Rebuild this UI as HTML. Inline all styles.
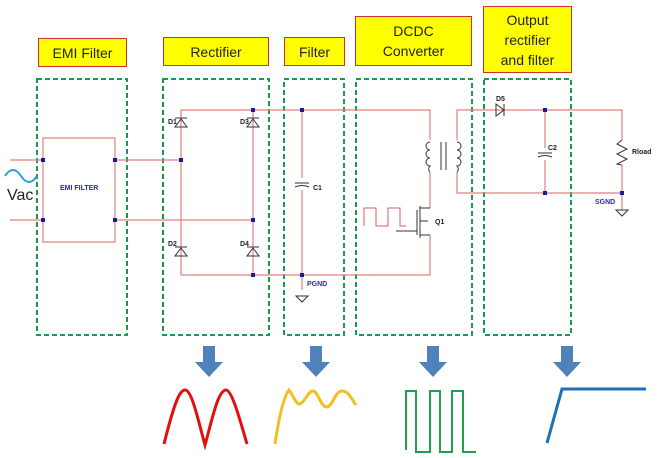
<!DOCTYPE html>
<html><head><style>
body{margin:0;background:#fff;}
.lb{position:absolute;background:#ffff00;border:1.5px solid #d03030;font-family:"Liberation Sans",sans-serif;font-size:14px;color:#222;display:flex;align-items:center;justify-content:center;text-align:center;line-height:20px;box-sizing:border-box}
</style></head><body>
<div style="position:relative;width:657px;height:458px;overflow:hidden">
<div class="lb" style="left:38px;top:38px;width:89px;height:29px">EMI Filter</div>
<div class="lb" style="left:163px;top:37px;width:106px;height:29px">Rectifier</div>
<div class="lb" style="left:284px;top:37px;width:61px;height:29px">Filter</div>
<div class="lb" style="left:355px;top:16px;width:117px;height:50px">DCDC<br>Converter</div>
<div class="lb" style="left:483px;top:6px;width:89px;height:67px">Output<br>rectifier<br>and filter</div>
<svg width="657" height="458" style="position:absolute;left:0;top:0" font-family="Liberation Sans,sans-serif">
<g fill="none" stroke="#1a9a50" stroke-width="2" stroke-dasharray="5,3">
<rect x="37" y="79" width="90" height="256"/>
<rect x="163" y="79" width="106" height="256"/>
<rect x="284" y="79" width="60" height="256"/>
<rect x="356" y="79" width="116" height="256"/>
<rect x="484" y="79" width="87" height="256"/>
</g>
<g fill="none" stroke="#e08080" stroke-width="1.2">
<rect x="43" y="138" width="72" height="104"/>
<line x1="10" y1="160" x2="43" y2="160"/><line x1="10" y1="220" x2="43" y2="220"/>
<line x1="115" y1="160" x2="181" y2="160"/><line x1="115" y1="220" x2="253" y2="220"/>
<polyline points="181,110 181,275"/><polyline points="253,110 253,275"/>
<polyline points="181,110 430,110 430,140"/><polyline points="430,172 430,208"/>
<polyline points="181,275 430,275 430,235"/>
<polyline points="302,110 302,178"/><polyline points="302,190 302,290"/>
<polyline points="457,140 457,110 622,110 622,140"/><polyline points="457,172 457,193 622,193 622,210"/>
<polyline points="622,165 622,193"/>
<polyline points="545,110 545,148"/><polyline points="545,160 545,193"/>
</g>
<g fill="none" stroke="#333" stroke-width="1">
<path d="M175,127 h12 l-6,-8 z M175,118 h12" />
<path d="M247,127 h12 l-6,-8 z M247,118 h12"/>
<path d="M175,256 h12 l-6,-8 z M175,247 h12"/>
<path d="M247,256 h12 l-6,-8 z M247,247 h12"/>
<path d="M496,104 v12 l8,-6 z M504,104 v12"/>
<path d="M295,183 h14 M295,187 q7,-3 14,0"/>
<path d="M538,153 h14 M538,157 q7,-3 14,0"/>
<path d="M622,140 l-5,4 l10,5 l-10,5 l10,5 l-10,5 l5,1"/>
<path d="M430,142 a4,4 0 0 0 0,8 a4,4 0 0 0 0,8 a4,4 0 0 0 0,8 a4,4 0 0 0 0,6"/>
<path d="M457,142 a4,4 0 0 1 0,8 a4,4 0 0 1 0,8 a4,4 0 0 1 0,8 a4,4 0 0 1 0,6"/>
<line x1="441" y1="142" x2="441" y2="170"/><line x1="446" y1="142" x2="446" y2="170"/>
<path d="M420,208 h10 M420,235 h10 M420,206 v32 M417,210 v25 M396,231 h21 M420,221 h8"/>
<path d="M296,296 h12 l-6,6 z M616,210 h12 l-6,6 z"/>
</g>
<path d="M364,226 v-18 h12 v18 h12 v-18 h12 v18 h6" fill="none" stroke="#d06060" stroke-width="1"/>
<path d="M5,176 q8,-12 16,0 q8,12 16,0" fill="none" stroke="#2aa0d8" stroke-width="2"/>
<g fill="#1a1aa0">
<rect x="41" y="158" width="4" height="4"/><rect x="113" y="158" width="4" height="4"/>
<rect x="41" y="218" width="4" height="4"/><rect x="113" y="218" width="4" height="4"/>
<rect x="179" y="158" width="4" height="4"/><rect x="251" y="218" width="4" height="4"/>
<rect x="251" y="108" width="4" height="4"/><rect x="251" y="273" width="4" height="4"/>
<rect x="300" y="108" width="4" height="4"/><rect x="300" y="273" width="4" height="4"/>
<rect x="543" y="108" width="4" height="4"/><rect x="543" y="191" width="4" height="4"/>
<rect x="620" y="191" width="4" height="4"/>
</g>
<g font-size="7" font-weight="bold" fill="#222">
<text x="168" y="124">D1</text><text x="240" y="124">D3</text>
<text x="168" y="246">D2</text><text x="240" y="246">D4</text>
<text x="313" y="190">C1</text><text x="548" y="150">C2</text>
<text x="496" y="101">D5</text><text x="435" y="224">Q1</text><text x="632" y="154">Rload</text>
</g>
<g font-size="7" font-weight="bold" fill="#2a2ab0">
<text x="60" y="190">EMI FILTER</text><text x="307" y="286">PGND</text><text x="595" y="204">SGND</text>
</g>
<text x="7" y="200" font-size="16" fill="#222">Vac</text>
<g fill="#4f81bd">
<path d="M203,346 h12 v16 h8 l-14,15 l-14,-15 h8 z"/>
<path d="M310,346 h12 v16 h8 l-14,15 l-14,-15 h8 z"/>
<path d="M427,346 h12 v16 h8 l-14,15 l-14,-15 h8 z"/>
<path d="M561,346 h12 v16 h8 l-14,15 l-14,-15 h8 z"/>
</g>
<path d="M164,444 C175,400 180,390 185,390 C192,390 198,420 205,445 C212,420 218,390 226,390 C232,390 240,420 247,444" fill="none" stroke="#e01010" stroke-width="3"/>
<path d="M275,444 C280,410 285,395 289,390 C293,395 296,405 300,404 C305,402 308,391 313,391 C318,391 321,408 327,407 C333,406 335,391 342,391 C349,391 352,400 356,405" fill="none" stroke="#f0c020" stroke-width="3"/>
<path d="M406,450 V391 H416 V452 H430 V391 H440 V452 H452 V391 H463 V452 H476" fill="none" stroke="#20a050" stroke-width="2"/>
<path d="M547,443 L562,389 H646" fill="none" stroke="#1f6fb5" stroke-width="3"/>
</svg>
</div>
</body></html>
